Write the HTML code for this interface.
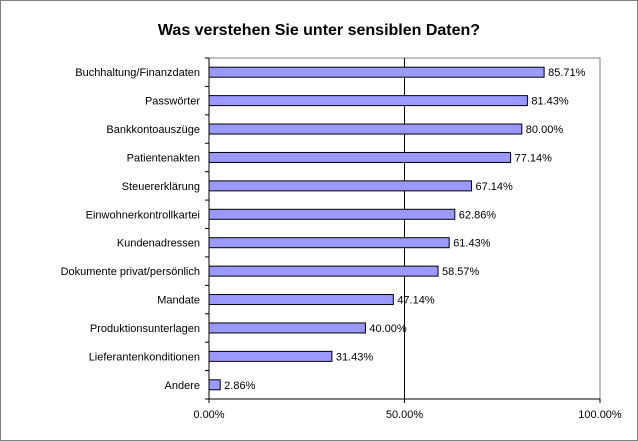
<!DOCTYPE html>
<html><head><meta charset="utf-8"><style>
body{margin:0;background:#fff}
svg{display:block;font-family:"Liberation Sans",Arial,sans-serif}
</style></head><body>
<svg id="chart" width="638" height="441">
<rect x="0.5" y="0.5" width="637" height="440" fill="#fff" stroke="#808080"/>
<text x="319" y="35" text-anchor="middle" font-size="16" font-weight="bold">Was verstehen Sie unter sensiblen Daten?</text>
<g id="plot"></g>
</svg>
<script>
const categories=["Buchhaltung/Finanzdaten","Passwörter","Bankkontoauszüge","Patientenakten","Steuererklärung","Einwohnerkontrollkartei","Kundenadressen","Dokumente privat/persönlich","Mandate","Produktionsunterlagen","Lieferantenkonditionen","Andere"];
const values=[85.71,81.43,80.00,77.14,67.14,62.86,61.43,58.57,47.14,40.00,31.43,2.86];
const tickValues=[0,50,100];
const tickLabels=["0.00%","50.00%","100.00%"];
const NS="http://www.w3.org/2000/svg";
const g=document.getElementById("plot");
const X0=209,X1=600,Y0=58,Y1=399;
const x=v=>X0+(X1-X0)*v/100;
const band=(Y1-Y0)/categories.length;
const yc=i=>Y0+band*(i+0.5);
function mk(t,a){const e=document.createElementNS(NS,t);for(const k in a)e.setAttribute(k,a[k]);g.appendChild(e);return e;}
let e;
e=mk("rect",{x:X0,y:Y0,width:X1-X0,height:Y1-Y0,fill:"#fff",stroke:"#808080"});


tickValues.forEach((v,i)=>{
  if(v>0&&v<100){e=mk("line",{x1:x(v),x2:x(v),y1:Y0,y2:Y1,stroke:"#000"});
  
  }
  e=mk("line",{x1:x(v),x2:x(v),y1:Y1,y2:Y1+4,stroke:"#000"});
  
  
  e=mk("text",{x:x(v),y:Y1+19,"font-size":11,"text-anchor":"middle"});
  e.textContent=tickLabels[i];
  
  
});
e=mk("line",{x1:X0,x2:X0,y1:Y0,y2:Y1,stroke:"#000"});


e=mk("line",{x1:X0-4,x2:X1,y1:Y1,y2:Y1,stroke:"#000"});


for(let i=0;i<=categories.length;i++){
  e=mk("line",{x1:X0-4,x2:X0,y1:Y0+band*i,y2:Y0+band*i,stroke:"#000"});
  
  
}
categories.forEach((c,i)=>{
  e=mk("text",{x:200,y:yc(i)+4,"font-size":11,"text-anchor":"end"});
  e.textContent=c;
  
  
  e=mk("rect",{x:X0,y:yc(i)-5,width:x(values[i])-X0,height:10,fill:"#9999ff",stroke:"#000"});
  
  
  e=mk("text",{x:x(values[i])+4,y:yc(i)+4,"font-size":11});
  e.textContent=values[i].toFixed(2)+"%";
  
  
});
</script>
</body></html>
